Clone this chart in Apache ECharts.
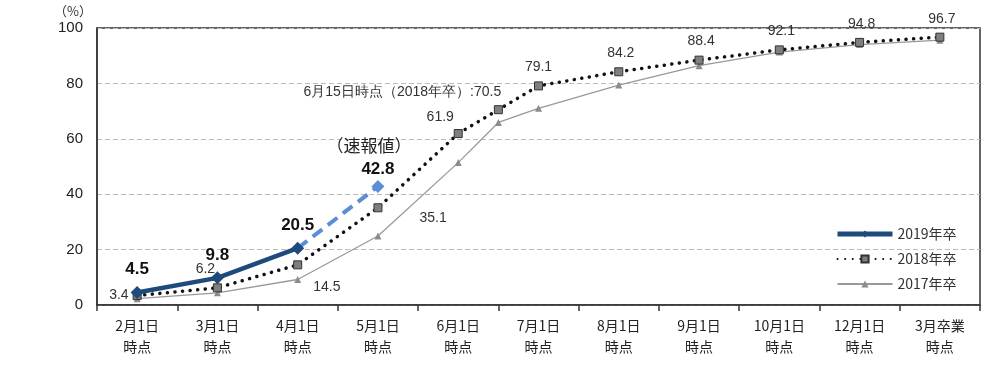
<!DOCTYPE html>
<html><head><meta charset="utf-8">
<script src="https://cdn.jsdelivr.net/npm/echarts@6/dist/echarts.min.js"></script>
<style>html,body{margin:0;padding:0;background:#fff}#c{width:1000px;height:370px}</style>
</head><body><div id="c"></div>
<script>
// ---- data ----
const categories = ['2月1日\n時点','3月1日\n時点','4月1日\n時点','5月1日\n時点','6月1日\n時点','7月1日\n時点','8月1日\n時点','9月1日\n時点','10月1日\n時点','12月1日\n時点','3月卒業\n時点'];
// position of each survey point along the time axis (category index; 4.5 = 6月15日)
const pos2018 = [0,1,2,3,4,4.5,5,6,7,8,9,10];
const val2018 = [3.4,6.2,14.5,35.1,61.9,70.5,79.1,84.2,88.4,92.1,94.8,96.7];
const pos2017 = [0,1,2,3,4,4.5,5,6,7,8,9,10];
const val2017 = [2.3,4.4,9.2,24.9,51.4,65.9,71.0,79.4,86.4,91.3,94.0,95.6];
const pos2019 = [0,1,2];
const val2019 = [4.5,9.8,20.5];
const pos2019p = [2,3];          // 速報値 segment
const val2019p = [20.5,42.8];
const yTicks = [0,20,40,60,80,100];
const names = ['2019年卒','2018年卒','2017年卒'];

// ---- label placement for 2018 (style, kept separate) ----
const lab2018 = [
  {position:'left', distance:4},
  {position:'top', offset:[-12,-2]},
  {position:'right', offset:[6,22]},
  {position:'right', offset:[32,10]},
  {position:'top', offset:[-18,0]},
  {position:'top', offset:[-96,-1]},
  {position:'top', offset:[0,-2]},
  {position:'top', offset:[2,-2]},
  {position:'top', offset:[2,-2]},
  {position:'top', offset:[2,-2]},
  {position:'top', offset:[2,-2]},
  {position:'top', offset:[2,-2]}
];

const pairs = (p, v) => p.map((x, i) => [x, v[i]]);
const d2018 = pairs(pos2018, val2018).map((d, i) => ({
  value: d,
  label: Object.assign({show:true}, lab2018[i],
    i === 5 ? {formatter: '6月15日時点（2018年卒）:' + val2018[i]} : {})
}));
const d2019p = pairs(pos2019p, val2019p).map((d, i) => ({
  value: d,
  symbol: i === 0 ? 'none' : 'diamond',
  label: i === 0 ? {show:false} : {show:true, position:'top', distance:1,
    formatter: '{a|（速報値）}\n{b|' + val2019p[i] + '}',
    rich: {
      a: {fontSize:17, lineHeight:26, color:'#222', fontFamily:'Noto Sans CJK JP', padding:[0,0,0,-18]},
      b: {fontSize:17, lineHeight:20, fontWeight:'bold', color:'#111', fontFamily:'Liberation Sans'}
    }}
}));

const chart = echarts.init(document.getElementById('c'), null, {renderer:'canvas'});
chart.setOption({
  animation:false,
  backgroundColor:'#fff',
  grid:{left:97, right:20, top:28, bottom:65, show:true, borderColor:'#333', borderWidth:1.5, backgroundColor:'transparent'},
  graphic:[{type:'text', left:54, top:5, style:{text:'（%）', fontSize:13, fill:'#333', fontFamily:'Noto Sans CJK JP'}}],
  legend:{
    data:[
      {name:names[0], lineStyle:{width:5}},
      {name:names[1]},
      {name:names[2]}
    ],
    orient:'vertical', left:830, top:222, itemWidth:55, itemHeight:9, itemGap:11,
    textStyle:{fontSize:14, color:'#333', fontFamily:'Noto Sans CJK JP'}
  },
  xAxis:[
    {type:'category', data:categories, boundaryGap:true,
     axisLine:{lineStyle:{color:'#333', width:1.5}},
     axisTick:{show:true, length:6, lineStyle:{color:'#333', width:1.5}},
     axisLabel:{color:'#222', fontSize:14, lineHeight:21, margin:10, fontFamily:'Noto Sans CJK JP', interval:0}},
    {type:'value', min:-0.5, max:10.5, show:false}
  ],
  yAxis:{type:'value', min:0, max:100, interval:20,
    axisLine:{show:true, onZero:false, lineStyle:{color:'#333', width:1.5}},
    axisTick:{show:false},
    axisLabel:{fontSize:15, color:'#222', margin:14, fontFamily:'Liberation Sans', formatter:v => yTicks.includes(v) ? String(v) : ''},
    splitLine:{lineStyle:{type:[5,3], color:'#bbb', width:1}}
  },
  series:[
    {name:names[2], type:'line', xAxisIndex:1, data:pairs(pos2017, val2017), z:2,
     symbol:'triangle', symbolSize:7,
     lineStyle:{color:'#999', width:1.3}, itemStyle:{color:'#8c8c8c'}},
    {name:names[1], type:'line', xAxisIndex:1, data:d2018, z:3,
     symbol:'rect', symbolSize:8,
     lineStyle:{color:'#111', width:3.5, type:[0.1,7.5], cap:'round'},
     itemStyle:{color:'#7f7f7f', borderColor:'#333', borderWidth:1},
     label:{fontSize:14, color:'#333', fontFamily:'Liberation Sans'}},
    {name:'2019年卒(速報値)', type:'line', xAxisIndex:1, data:d2019p, z:4,
     symbolSize:13,
     lineStyle:{color:'#5B8ED6', width:4, type:[12,7]}, itemStyle:{color:'#5B8ED6'}},
    {name:names[0], type:'line', xAxisIndex:1, data:pairs(pos2019, val2019), z:5,
     symbol:'diamond', symbolSize:13,
     lineStyle:{color:'#1F4A7C', width:4.5}, itemStyle:{color:'#1F4A7C'},
     label:{show:true, position:'top', distance:8, fontSize:17, fontWeight:'bold', color:'#111', fontFamily:'Liberation Sans'}}
  ]
});
</script></body></html>
